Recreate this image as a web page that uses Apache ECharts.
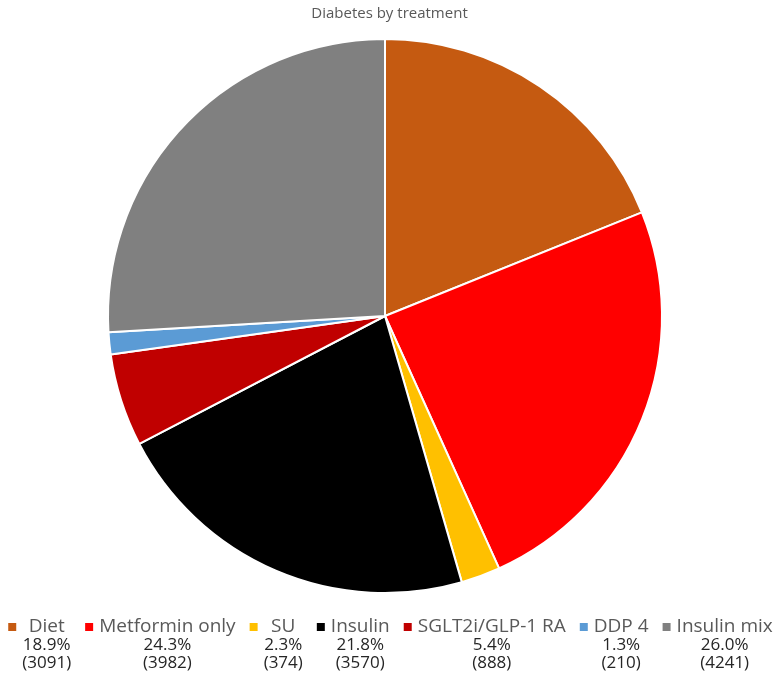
<!DOCTYPE html>
<html>
<head>
<meta charset="utf-8">
<script src="https://cdn.jsdelivr.net/npm/echarts@6/dist/echarts.min.js"></script>
<style>html,body{margin:0;padding:0;background:#fff}#c{width:779px;height:675px}</style>
</head>
<body>
<div id="c"></div>
<script>
const categories = ['Diet', 'Metformin only', 'SU', 'Insulin', 'SGLT2i/GLP-1 RA', 'DDP 4', 'Insulin mix'];
const counts = [3091, 3982, 374, 3570, 888, 210, 4241];
const percents = ['18.9%', '24.3%', '2.3%', '21.8%', '5.4%', '1.3%', '26.0%'];
const colors = ['#C55A11', '#FF0000', '#FFC000', '#000000', '#C00000', '#5B9BD5', '#808080'];

const chart = echarts.init(document.getElementById('c'), null, {renderer: 'canvas'});
const FONT = '"Open Sans", "Liberation Sans", sans-serif';
chart.setOption({
  animation: false,
  color: colors,
  title: {
    text: 'Diabetes by treatment',
    left: 'center',
    top: 1,
    textStyle: {fontFamily: FONT, fontSize: 15, fontWeight: 'normal', color: '#595959'}
  },
  legend: {
    data: categories,
    orient: 'horizontal',
    left: 'center',
    top: 582,
    padding: 0,
    itemGap: 12,
    itemWidth: 10,
    itemHeight: 10,
    icon: 'rect',
    textStyle: {
      fontFamily: FONT,
      fontSize: 19,
      lineHeight: 18,
      color: '#595959',
      padding: [36, 0, 0, 0],
      rich: {
        n: {fontFamily: FONT, fontSize: 19, lineHeight: 18, color: '#595959', align: 'center'},
        p: {fontFamily: FONT, fontSize: 17, lineHeight: 18, color: '#262626', align: 'center'}
      }
    },
    formatter: function (name) {
      const i = categories.indexOf(name);
      return '{n|' + name + '}\n{p|' + percents[i] + '}\n{p|(' + counts[i] + ')}';
    }
  },
  series: [{
    type: 'pie',
    center: [385, 316],
    radius: 277,
    startAngle: 90,
    clockwise: true,
    label: {show: false},
    labelLine: {show: false},
    itemStyle: {borderColor: '#ffffff', borderWidth: 2},
    emphasis: {disabled: true},
    data: categories.map((c, i) => ({name: c, value: counts[i]}))
  }]
});
</script>
</body>
</html>
